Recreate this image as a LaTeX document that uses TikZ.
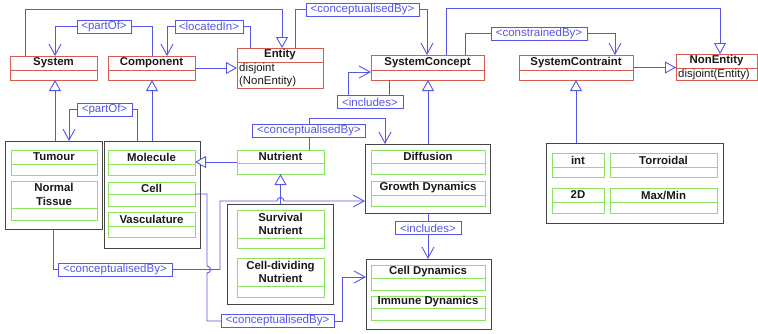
\documentclass[tikz,border=0pt]{standalone}
\usepackage{fontspec}
\setmainfont{Liberation Sans}
\usetikzlibrary{arrows.meta,calc}
\definecolor{ured}{RGB}{212,92,82}
\definecolor{ugreen}{RGB}{140,225,95}
\definecolor{ublue}{RGB}{86,86,232}
\definecolor{ugray}{RGB}{70,70,70}
\tikzset{
  box/.style={draw=#1, line width=0.9pt, fill=white, inner sep=0pt, outer sep=0pt, rectangle},
  grpbox/.style={draw=ugray, line width=1pt, fill=white, inner sep=0pt, outer sep=0pt, rectangle},
  hdr/.style={font=\fontsize{11.4}{13.5}\selectfont\bfseries, inner sep=0pt, align=center, text=black!90},
  body/.style={font=\fontsize{11.4}{13}\selectfont, inner sep=0pt, align=left, text=black!90},
  lbl/.style={draw=ublue, text=ublue, fill=white, line width=0.9pt, font=\fontsize{11.5}{12}\selectfont,
    inner xsep=2pt, inner ysep=0pt, minimum height=13pt, outer sep=0pt},
  conn/.style={draw=ublue, line width=0.9pt},
  gen/.style={conn, -{Triangle[open, length=11pt, width=12pt, fill=white]}},
  assoc/.style={conn, -{Straight Barb[length=11pt, width=12pt]}},
}
% name, x1, y1, x2, y2, ysep, colour, header text
\newcommand\clsbox[8]{%
  \node[box=#7, minimum width={(#4-#2)*1pt}, minimum height={(#5-#3)*1pt}] (#1) at ({(#2+#4)/2},{(#3+#5)/2}) {};
  \draw[#7, line width=0.9pt] (#2,#6) -- (#4,#6);
  \node[hdr] at ({(#2+#4)/2},{(#3+#6)/2}) {#8};
}
\newcommand\grpnode[5]{%
  \node[grpbox, minimum width={(#4-#2)*1pt}, minimum height={(#5-#3)*1pt}] (#1) at ({(#2+#4)/2},{(#3+#5)/2}) {};
}
\begin{document}
\begin{tikzpicture}[x=1pt,y=-1pt]
\useasboundingbox[fill=white] (0,0) rectangle (758,333);

% red classes
\clsbox{System}{10}{56}{97}{80}{70}{ured}{System}
\clsbox{Component}{108}{56}{195}{80}{70}{ured}{Component}
\clsbox{Entity}{237}{48}{323}{88}{62}{ured}{Entity}
\node[body, anchor=north west] (EntityBody) at (239,63.5) {disjoint\\(NonEntity)};
\clsbox{SystemConcept}{371}{55}{484}{80}{70}{ured}{SystemConcept}
\clsbox{SystemContraint}{519}{55}{633}{80}{70}{ured}{SystemContraint}
\clsbox{NonEntity}{676}{54}{757}{80}{68}{ured}{NonEntity}
\node[body, anchor=north west] (NonEntityBody) at (678,69) {disjoint(Entity)};

% groups
\grpnode{Gtum}{5}{141}{102}{229}
\grpnode{Gmol}{104}{141}{200}{248}
\grpnode{Gsur}{227}{204}{333}{304}
\grpnode{Gdif}{365}{144}{490}{213}
\grpnode{Gcd}{366}{259}{491}{329}
\grpnode{Gint}{546}{143}{723}{223}

% green classes
\clsbox{Tumour}{11}{150}{97}{175}{164}{ugreen}{Tumour}
\clsbox{Normal}{11}{181}{97}{220}{208}{ugreen}{Normal\\Tissue}
\clsbox{Molecule}{108}{150}{195}{175}{164}{ugreen}{Molecule}
\clsbox{Cell}{108}{182}{195}{206}{194}{ugreen}{Cell}
\clsbox{Vasc}{108}{212}{195}{237}{226}{ugreen}{Vasculature}
\clsbox{Nutrient}{237}{150}{324}{174}{163}{ugreen}{Nutrient}
\clsbox{Diffusion}{371}{150}{485}{174}{163}{ugreen}{Diffusion}
\clsbox{Growth}{371}{181}{485}{206}{195}{ugreen}{Growth Dynamics}
\clsbox{Survival}{237}{210}{324}{248}{238}{ugreen}{Survival\\Nutrient}
\clsbox{CellDiv}{237}{258}{324}{297}{286}{ugreen}{Cell-dividing\\Nutrient}
\clsbox{CellDyn}{371}{265}{485}{290}{278}{ugreen}{Cell Dynamics}
\clsbox{Immune}{371}{296}{485}{320}{308}{ugreen}{Immune Dynamics}
\clsbox{Int}{552}{153}{604}{177}{167}{ugreen}{int}
\clsbox{Torr}{610}{153}{717}{177}{167}{ugreen}{Torroidal}
\clsbox{TwoD}{552}{188}{604}{213}{202}{ugreen}{2D}
\clsbox{MaxMin}{610}{188}{717}{213}{202}{ugreen}{Max/Min}

% labels
\node[lbl, minimum width=54pt] (L1) at (104,26.5) {<partOf>};
\node[lbl, minimum width=68pt] (L2) at (209,26.5) {<locatedIn>};
\node[lbl, minimum width=113pt] (L3) at (362.5,9.5) {<conceptualisedBy>};
\node[lbl, minimum width=96pt] (L4) at (539,33.5) {<constrainedBy>};
\node[lbl, minimum width=66pt] (L5) at (370,102) {<includes>};
\node[lbl, minimum width=55pt] (L6) at (104.5,109.5) {<partOf>};
\node[lbl, minimum width=113pt] (L7) at (309,131) {<conceptualisedBy>};
\node[lbl, minimum width=66pt] (L8) at (428,228) {<includes>};
\node[lbl, minimum width=114pt] (L9) at (115,269.5) {<conceptualisedBy>};
\node[lbl, minimum width=113pt] (L10) at (277.5,321) {<conceptualisedBy>};

% connectors
\draw[gen] ($(System.north west)+(15,0)$) |- (282,9) -- ($(Entity.north west)+(45,0)$);
\draw[gen] (Component.east) -- (Component.east -| Entity.west);
\draw[conn] ($(Component.north west)+(44,0)$) |- (L1.east);
\draw[assoc] (L1.west) -| ($(System.north west)+(45,0)$);
\draw[conn] ($(Entity.north west)+(13,0)$) |- (L2.east);
\draw[assoc] (L2.west) -| ($(Component.north west)+(59,0)$);
\draw[conn] ($(Entity.north west)+(58,0)$) |- (L3.west);
\draw[assoc] (L3.east) -| ($(SystemConcept.north west)+(56,0)$);
\draw[gen] ($(SystemConcept.north west)+(75,0)$) |- (720,8) -- ($(NonEntity.north west)+(44,0)$);
\draw[conn] ($(SystemConcept.north west)+(94,0)$) |- (L4.west);
\draw[assoc] (L4.east) -| ($(SystemContraint.north west)+(96,0)$);
\draw[gen] (SystemContraint.east) -- (SystemContraint.east -| NonEntity.west);
\draw[gen] ($(Gint.north west)+(30,0)$) -- ($(SystemContraint.south west)+(57,0)$);
\draw[conn] ($(SystemConcept.south west)+(18,0)$) -- ($(L5.north west)+(52,0)$);
\draw[assoc] ($(L5.north west)+(11,0)$) |- ($(SystemConcept.west)+(0,4.5)$);
\draw[gen] ($(Gdif.north west)+(63,0)$) -- ($(SystemConcept.south west)+(57,0)$);
\draw[conn] (Gdif.south -| L8.north) -- (L8.north);
\draw[assoc] (L8.south) -- (L8.south |- Gcd.north);
\draw[conn] (Nutrient.north -| L7.south) -- (L7.south);
\draw[assoc] (L7.north) |- ($(Gdif.north west)+(20,-26)$) -- ($(Gdif.north west)+(20,0)$);
\draw[gen] (Nutrient.west) -- (Nutrient.west -| Molecule.east);
\draw[gen] (Nutrient.south |- Gsur.north) -- (Nutrient.south);
\draw[conn] ($(Gtum.south west)+(48,0)$) |- (L9.west);
\draw[assoc] (L9.east) -| (220,201) -- (277,201) .. controls (277,196.3) and (284,196.3) .. (284,201) -- ($(Gdif.north west)+(0,57)$);
\draw[conn] (Cell.east) -| (207,266) .. controls (211.7,266) and (211.7,273) .. (207,273) |- (L10.west);
\draw[assoc] (L10.east) -| (342,277) -- ($(Gcd.north west)+(0,18)$);
\draw[conn] ($(Gmol.north west)+(33,0)$) |- (L6.east);
\draw[assoc] (L6.west) -| ($(Gtum.north west)+(64,0)$);
\draw[gen] ($(Gtum.north west)+(50,0)$) -- ($(System.south west)+(45,0)$);
\draw[gen] ($(Gmol.north west)+(48,0)$) -- ($(Component.south west)+(44,0)$);
\end{tikzpicture}
\end{document}
